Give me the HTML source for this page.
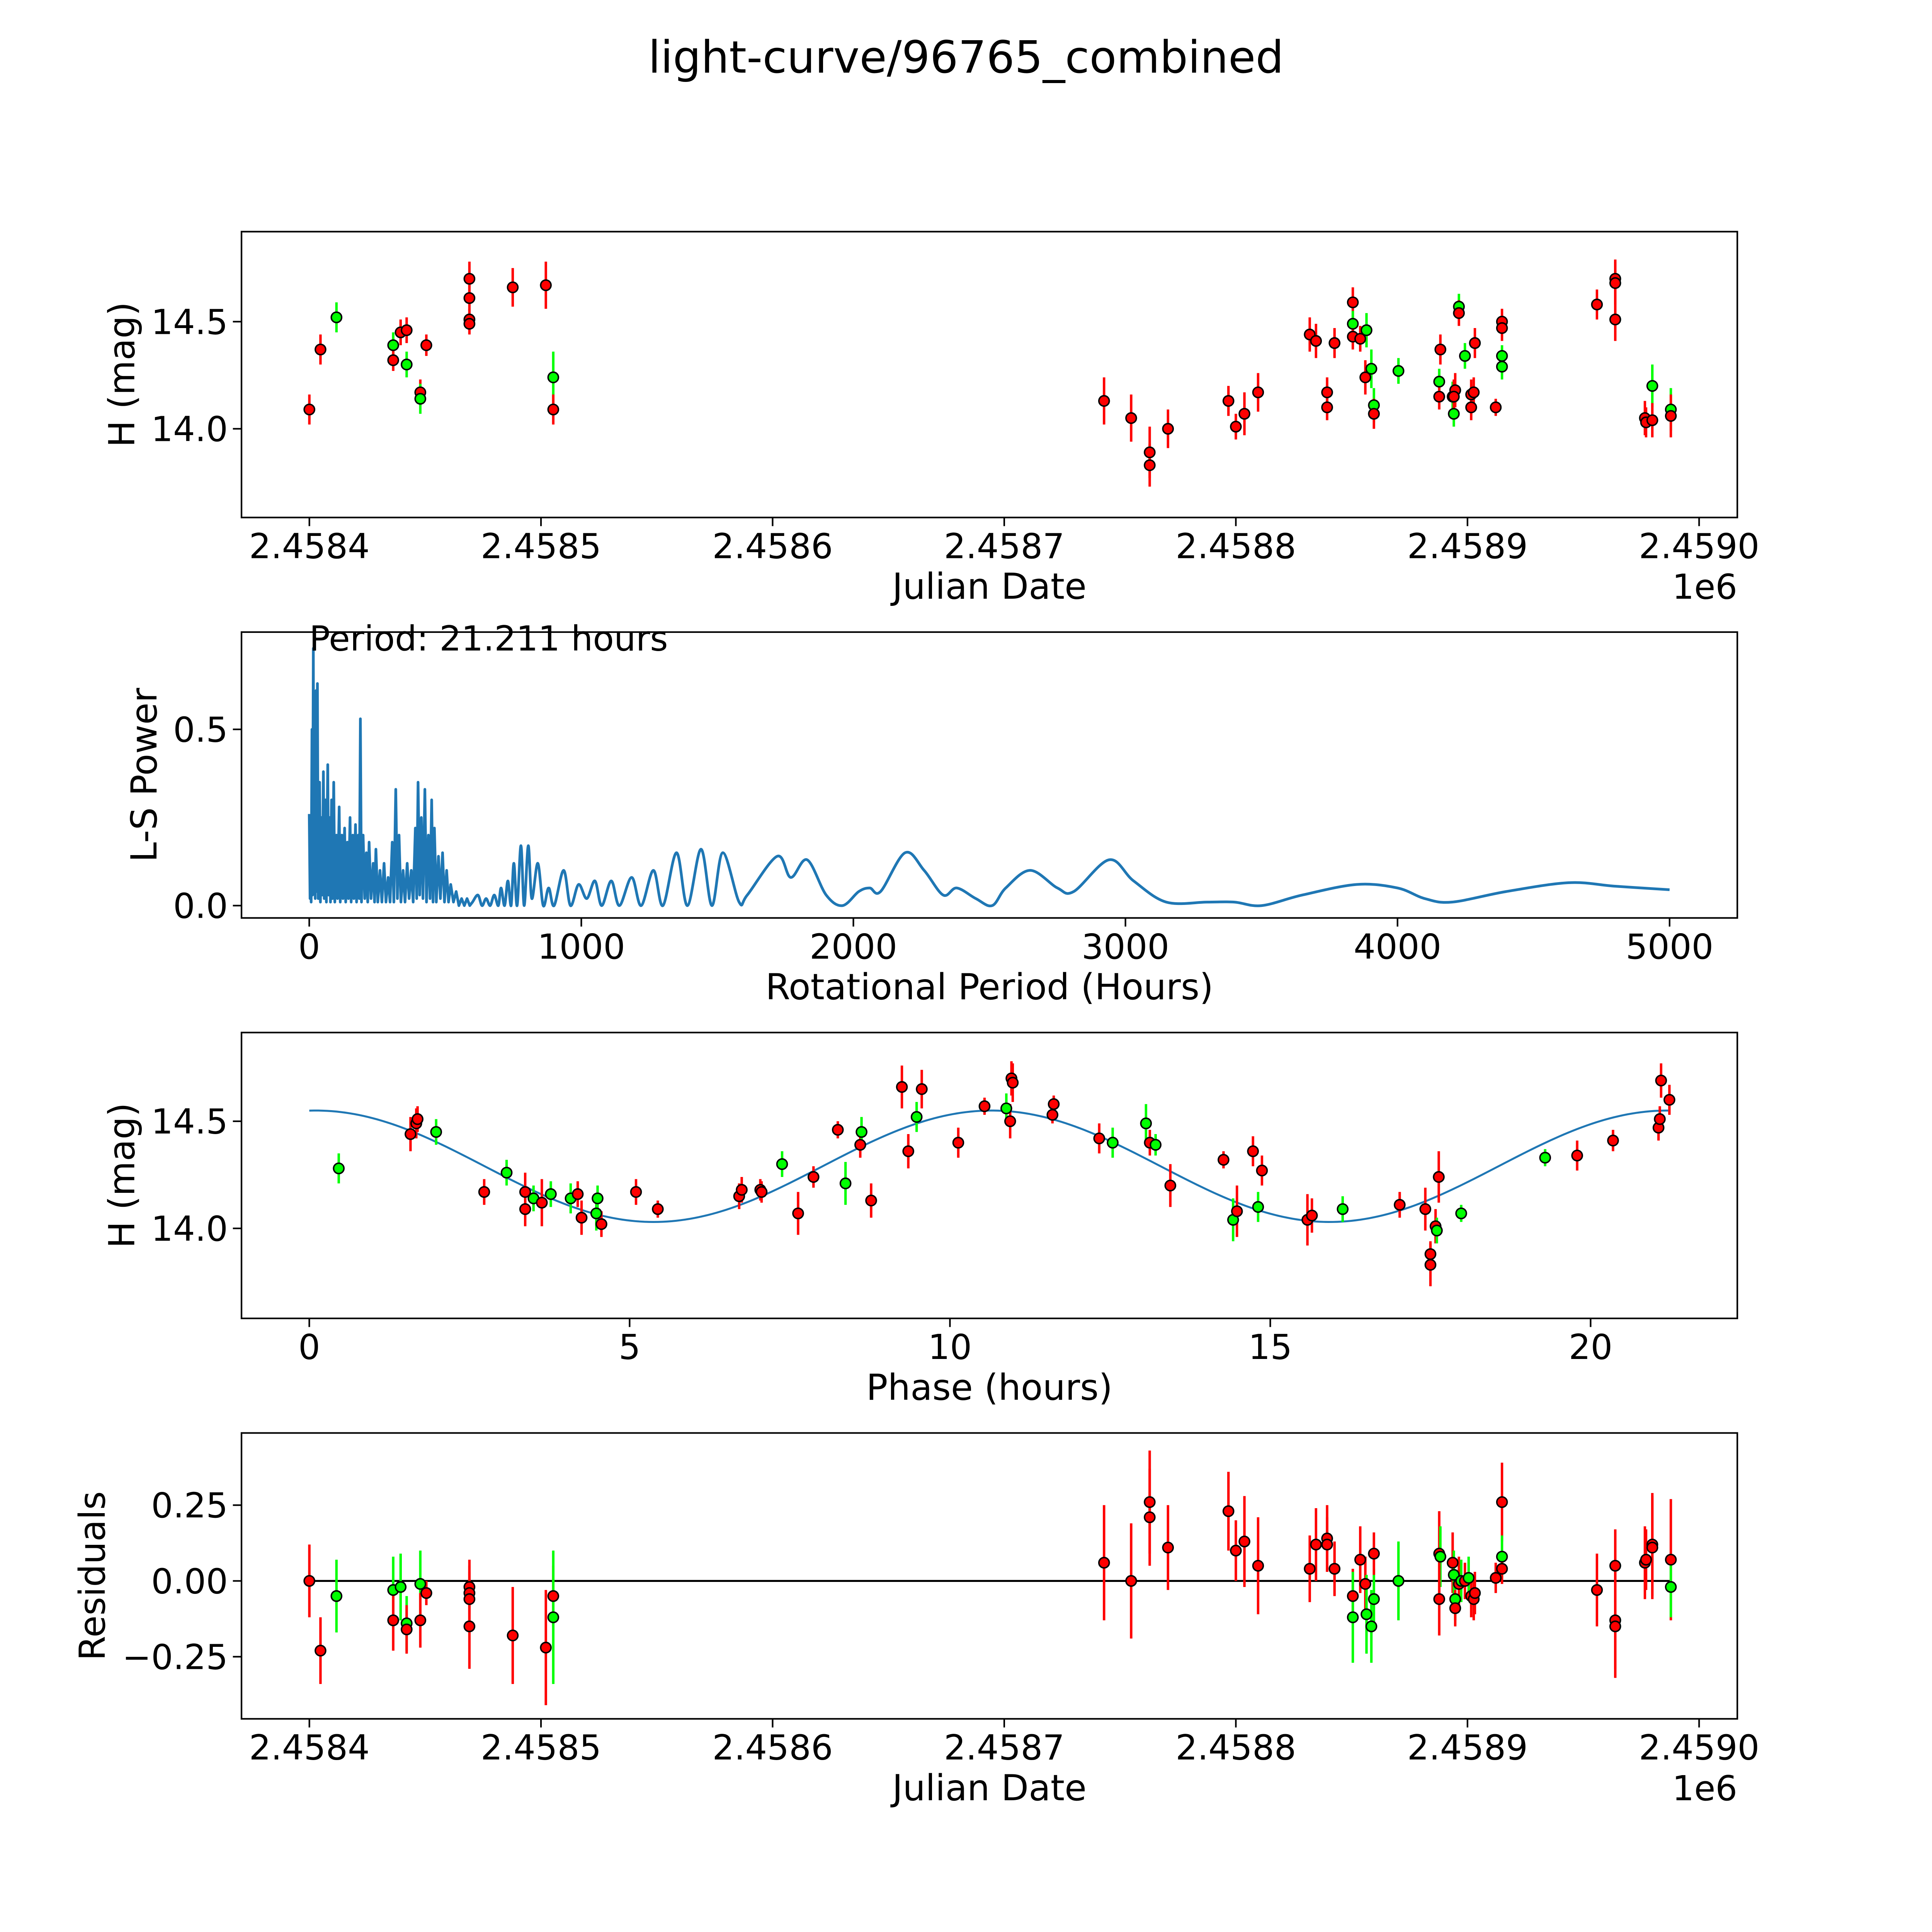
<!DOCTYPE html>
<html><head><meta charset="utf-8"><style>html,body{margin:0;padding:0;background:#fff;overflow:hidden;width:100vw;height:100vh}svg{display:block;width:100vw;height:100vh}text{font-family:"DejaVu Sans","Liberation Sans",sans-serif;fill:#000}</style></head>
<body>
<svg id="fig" xmlns="http://www.w3.org/2000/svg" viewBox="0 0 1568 1568" preserveAspectRatio="none">
<rect x="0" y="0" width="1568" height="1568" fill="#fff"/>
<text x="784" y="59" font-size="36" text-anchor="middle">light-curve/96765_combined</text>
<g id="g1"></g>
<g id="g2"></g>
<g id="g3"></g>
<g id="g4"></g>
</svg>
<script>
// ---- data ----
const lcDays = [0,4.8,11.7,36.2,36.2,39.4,42.0,42.0,47.9,47.9,50.5,69.1,69.1,69.1,69.1,87.8,102.1,105.3,105.3,343.1,354.8,362.8,362.8,370.7,396.8,400.0,403.7,409.6,431.9,434.6,439.4,439.4,442.6,450.5,450.5,450.5,453.7,455.9,456.4,458.5,459.6,459.6,470.2,487.8,488.3,487.8,493.6,494.1,494.7,494.1,496.3,496.3,498.9,501.6,501.6,502.7,503.2,512.2,514.9,514.9,514.9,514.9,555.9,563.8,563.8,563.8,576.6,577.1,579.8,579.8,587.8,587.8];
const lcMag = [14.09,14.37,14.52,14.39,14.32,14.45,14.46,14.30,14.17,14.14,14.39,14.70,14.61,14.51,14.49,14.66,14.67,14.24,14.09,14.13,14.05,13.89,13.83,14.00,14.13,14.01,14.07,14.17,14.44,14.41,14.17,14.10,14.40,14.59,14.49,14.43,14.42,14.24,14.46,14.28,14.11,14.07,14.27,14.22,14.37,14.15,14.15,14.07,14.18,14.15,14.57,14.54,14.34,14.16,14.10,14.17,14.40,14.10,14.50,14.47,14.34,14.29,14.58,14.70,14.68,14.51,14.05,14.03,14.20,14.04,14.09,14.06];
const lcErr = [0.07,0.07,0.07,0.06,0.05,0.06,0.06,0.06,0.06,0.07,0.05,0.08,0.06,0.05,0.05,0.09,0.11,0.12,0.07,0.11,0.11,0.12,0.1,0.09,0.07,0.06,0.1,0.09,0.08,0.08,0.07,0.06,0.07,0.07,0.06,0.06,0.06,0.08,0.08,0.09,0.08,0.07,0.06,0.06,0.07,0.06,0.07,0.06,0.08,0.08,0.06,0.06,0.06,0.07,0.06,0.07,0.07,0.04,0.06,0.06,0.05,0.06,0.07,0.09,0.1,0.1,0.08,0.07,0.1,0.08,0.1,0.1];
const lcBand = "rrggrrrgrgrrrrrrrgrrrrrrrrrrrrrrrrgrrrgggrggrrggrrgrgrrrrrrrggrrrrrrgrgr";

const lsPeriod = [
 0,3,5,7,10,12,15,17,20,22,25,27,30,33,38,41,45,48,52,55,
 60,63,68,71,75,78,82,85,90,94,
 100,104,110,114,120,124,130,134,140,144,
 150,154,160,164,170,174,180,184,188,192,
 198,204,210,215,220,227,235,240,245,252,
 260,267,275,282,290,297,305,311,318,324,
 330,337,345,352,360,367,375,382,390,395,
 400,406,412,418,425,431,438,444,450,455,
 460,467,475,482,490,497,505,512,520,530,
 540,550,560,570,580,590,600,620,635,650,
 665,680,695,705,718,730,742,752,764,778,
 790,805,818,840,860,880,900,935,960,990,
 1020,1050,1075,1110,1140,1185,1220,1265,1300,1350,
 1390,1440,1480,1520,1580,1610,1720,1770,1830,1900,
 1960,2020,2060,2100,2190,2260,2330,2380,2450,2510,
 2560,2650,2750,2810,2940,3030,3150,3300,3400,3500,
 3650,3850,4000,4100,4200,4400,4630,4800,5000];
const lsPower = [
 0.26,0.02,0.2,0.01,0.5,0.03,0.73,0.05,0.3,0.02,0.61,0.04,0.63,0.02,0.35,0.01,0.25,0.03,0.38,0.02,
 0.3,0.01,0.4,0.03,0.25,0.01,0.3,0.02,0.35,0.01,
 0.2,0.02,0.28,0.01,0.2,0.02,0.22,0.01,0.18,0.02,
 0.25,0.01,0.2,0.02,0.23,0.01,0.2,0.02,0.53,0.01,
 0.2,0.02,0.15,0.01,0.18,0.02,0.12,0.01,0.16,0.01,
 0.1,0.01,0.12,0.01,0.08,0.01,0.18,0.01,0.33,0.02,
 0.2,0.01,0.1,0.01,0.12,0.02,0.1,0.01,0.22,0.02,
 0.35,0.03,0.25,0.02,0.33,0.01,0.2,0.02,0.3,0.01,
 0.22,0.01,0.14,0.02,0.15,0.01,0.1,0.01,0.06,0.01,
 0.04,0,0.02,0,0.02,0,0.01,0.03,0,0.02,
 0,0.03,0,0.05,0,0.07,0,0.12,0,0.17,
 0,0.17,0.02,0.12,0,0.05,0,0.1,0,0.06,
 0.02,0.07,0,0.07,0,0.08,0,0.1,0,0.15,
 0,0.16,0,0.15,0.01,0.03,0.14,0.08,0.13,0.03,
 0,0.04,0.05,0.04,0.15,0.1,0.03,0.05,0.02,0,
 0.05,0.1,0.05,0.04,0.13,0.07,0.01,0.01,0.01,0,
 0.03,0.06,0.05,0.02,0.01,0.04,0.065,0.055,0.045];

const phHours = [0.46,1.58,1.67,1.69,1.98,2.73,3.08,3.37,3.37,3.50,3.63,3.77,4.08,4.19,4.25,4.48,4.50,4.56,5.10,5.44,6.71,6.75,7.04,7.06,7.38,7.63,7.87,8.25,8.37,8.60,8.62,8.77,9.25,9.35,9.48,9.56,10.13,10.54,10.88,10.94,10.96,10.98,11.60,11.62,12.33,12.54,13.06,13.12,13.21,13.44,14.27,14.42,14.48,14.73,14.81,14.87,15.58,15.65,16.13,17.02,17.42,17.50,17.50,17.58,17.60,17.63,17.98,19.29,19.79,20.35,21.06,21.08,21.10,21.23];
const phMag = [14.28,14.44,14.49,14.51,14.45,14.17,14.26,14.17,14.09,14.14,14.12,14.16,14.14,14.16,14.05,14.07,14.14,14.02,14.17,14.09,14.15,14.18,14.18,14.17,14.30,14.07,14.24,14.46,14.21,14.39,14.45,14.13,14.66,14.36,14.52,14.65,14.40,14.57,14.56,14.50,14.70,14.68,14.53,14.58,14.42,14.40,14.49,14.40,14.39,14.20,14.32,14.04,14.08,14.36,14.10,14.27,14.04,14.06,14.09,14.11,14.09,13.88,13.83,14.01,13.99,14.24,14.07,14.33,14.34,14.41,14.47,14.51,14.69,14.60];
const phErr = [0.07,0.08,0.07,0.06,0.06,0.06,0.06,0.09,0.08,0.06,0.11,0.06,0.07,0.06,0.08,0.08,0.06,0.06,0.06,0.04,0.06,0.06,0.05,0.05,0.06,0.1,0.05,0.04,0.1,0.06,0.07,0.08,0.1,0.08,0.07,0.09,0.07,0.04,0.07,0.08,0.08,0.09,0.04,0.04,0.07,0.07,0.09,0.06,0.05,0.1,0.04,0.1,0.12,0.07,0.07,0.07,0.12,0.08,0.06,0.06,0.1,0.06,0.1,0.08,0.06,0.12,0.04,0.04,0.07,0.05,0.06,0.06,0.08,0.07];
const phBand = "grrrgrgrrgrggrrggrrrrrrrgrrrgrgrrrgrrrgrrrrrrggrgrrgrrgrrrgrrrrrgrggrrrrr";
const fitMean = 14.29, fitAmp = 0.26, fitPeak = 0.1, fitHalfPeriod = 10.55;

const resDays = [0,4.8,11.7,36.2,36.2,39.4,42.0,42.0,47.9,47.9,50.5,69.1,69.1,69.1,69.1,87.8,102.1,105.3,105.3,343.1,354.8,362.8,362.8,370.7,396.8,400.0,403.7,409.6,431.9,434.6,439.4,439.4,442.6,450.5,450.5,453.7,455.9,456.4,458.5,459.6,459.6,470.2,487.8,488.3,487.8,493.6,494.1,494.7,494.7,496.3,497.3,498.9,500.5,501.6,502.7,503.2,512.2,514.9,514.9,514.9,555.9,563.8,563.8,563.8,576.6,577.1,579.8,579.8,587.8,587.8];
const resVal = [0.00,-0.23,-0.05,-0.03,-0.13,-0.02,-0.14,-0.16,-0.01,-0.13,-0.04,-0.02,-0.04,-0.06,-0.15,-0.18,-0.22,-0.05,-0.12,0.06,0.00,0.26,0.21,0.11,0.23,0.10,0.13,0.05,0.04,0.12,0.14,0.12,0.04,-0.05,-0.12,0.07,-0.01,-0.11,-0.15,-0.06,0.09,0.00,0.09,0.08,-0.06,0.06,0.02,-0.06,-0.09,-0.01,0.00,0.00,0.01,-0.05,-0.06,-0.04,0.01,0.26,0.08,0.04,-0.03,-0.13,-0.15,0.05,0.06,0.07,0.12,0.11,0.07,-0.02];
const resErr = [0.12,0.11,0.12,0.11,0.1,0.11,0.09,0.08,0.11,0.09,0.04,0.09,0.09,0.09,0.14,0.16,0.19,0.1,0.22,0.19,0.19,0.17,0.16,0.14,0.13,0.1,0.15,0.16,0.11,0.12,0.11,0.09,0.09,0.09,0.15,0.11,0.09,0.13,0.12,0.1,0.07,0.13,0.14,0.1,0.12,0.1,0.08,0.07,0.06,0.09,0.07,0.06,0.07,0.07,0.07,0.07,0.05,0.13,0.07,0.05,0.12,0.16,0.17,0.12,0.12,0.1,0.17,0.17,0.2,0.1];
const resBand = "rrggrggrgrrrrrrrrrgrrrrrrrrrrrrrrrgrrgggrgrgrrggrrgrgrrrrrgrrrrrrrrrrgr";

const xTicksJD = [0,100,200,300,400,500,600];
const xTickLabelsJD = ["2.4584","2.4585","2.4586","2.4587","2.4588","2.4589","2.4590"];
const magTicks = [14.0,14.5];
const magTickLabels = ["14.0","14.5"];
const lsXTicks = [0,1000,2000,3000,4000,5000];
const lsYTicks = [0,0.5];
const lsYTickLabels = ["0.0","0.5"];
const phTicks = [0,5,10,15,20];
const resTicks = [-0.25,0,0.25];
const resTickLabels = ["\u22120.25","0.00","0.25"];

// ---- layout ----
const NS = "http://www.w3.org/2000/svg";
const L = 196, R = 1410, H = 232, FS = 28, LFS = 29;
function lin(d0,d1,r0,r1){return v=>r0+(v-d0)/(d1-d0)*(r1-r0);}
function mk(parent,tag,attrs){const e=document.createElementNS(NS,tag);for(const k in attrs)e.setAttribute(k,attrs[k]);parent.appendChild(e);return e;}
function txt(parent,x,y,s,size,anchor,rot){const t=mk(parent,"text",{x:x,y:y,"font-size":size,"text-anchor":anchor||"middle"});if(rot)t.setAttribute("transform",`rotate(-90 ${x} ${y})`);t.textContent=s;return t;}

function frame(g,top,sx,sy,xt,xl,yt,yl,xlabel,ylabel,ylabX,offsetText){
  const b=top+H;
  xt.forEach((v,i)=>{const x=sx(v);
    const tk=mk(g,"line",{x1:x,x2:x,y1:b,y2:b+7,stroke:"#000","stroke-width":1.3});
    
    
    const t=txt(g,x,b+33,xl[i],FS);
    
    });
  yt.forEach((v,i)=>{const y=sy(v);
    const tk=mk(g,"line",{x1:L-7,x2:L,y1:y,y2:y,stroke:"#000","stroke-width":1.3});
    
    
    const t=txt(g,L-11,y+10,yl[i],FS,"end");
    
    });
  const xlab=txt(g,(L+R)/2,b+66,xlabel,LFS);
  
  
  const ylab=txt(g,ylabX,top+H/2,ylabel,LFS,"middle",true);
  
  
  if(offsetText){const o=txt(g,R,b+66,offsetText,FS,"end");
    
    }
}
function border(g,top){const r=mk(g,"rect",{x:L,y:top,width:R-L,height:H,fill:"none",stroke:"#000","stroke-width":1.3});
  
  }
function points(g,xs,ys,es,band,sx,sy){
  const col=c=>c==="g"?"#00ff00":"#ff0000";
  xs.forEach((xv,i)=>{const e=es[i]??0.07;
    const l=mk(g,"line",{x1:sx(xv),x2:sx(xv),y1:sy(ys[i]-e),y2:sy(ys[i]+e),stroke:col(band[i]),"stroke-width":2});
    
    });
  xs.forEach((xv,i)=>{
    const c=mk(g,"circle",{cx:sx(xv),cy:sy(ys[i]),r:4.2,fill:col(band[i]),stroke:"#000","stroke-width":1.2});
    
    });
}

// Panel 1
(function(){const g=document.getElementById("g1"),top=188;
  const sx=lin(-29.3,616.5,L,R), sy=lin(13.586,14.92,top+H,top);
  frame(g,top,sx,sy,xTicksJD,xTickLabelsJD,magTicks,magTickLabels,"Julian Date","H (mag)",109,"1e6");
  points(g,lcDays,lcMag,lcErr,lcBand,sx,sy); border(g,top);})();

// Panel 2
(function(){const g=document.getElementById("g2"),top=513;
  const sx=lin(-249,5249,L,R), sy=lin(-0.035,0.776,top+H,top);
  frame(g,top,sx,sy,lsXTicks,lsXTicks.map(String),lsYTicks,lsYTickLabels,"Rotational Period (Hours)","L-S Power",127);
  const P=lsPeriod.map((p,i)=>[sx(p),sy(lsPower[i])]);
  let d="M"+P[0][0].toFixed(2)+" "+P[0][1].toFixed(2);
  for(let i=1;i<P.length;i++){
    if(lsPeriod[i]<=600){d+="L"+P[i][0].toFixed(2)+" "+P[i][1].toFixed(2);}
    else{const p0=P[i-2]||P[i-1],p1=P[i-1],p2=P[i],p3=P[i+1]||P[i];
      const c1=[p1[0]+(p2[0]-p0[0])/6,p1[1]+(p2[1]-p0[1])/6],c2=[p2[0]-(p3[0]-p1[0])/6,p2[1]-(p3[1]-p1[1])/6];
      d+=`C${c1[0].toFixed(2)} ${c1[1].toFixed(2)} ${c2[0].toFixed(2)} ${c2[1].toFixed(2)} ${p2[0].toFixed(2)} ${p2[1].toFixed(2)}`;}
  }
  const p=mk(g,"path",{d:d,fill:"none",stroke:"#1f77b4","stroke-width":2.2,"stroke-linejoin":"round"});
  
  
  border(g,top);
  const t=txt(g,sx(0),top+15,"Period: 21.211 hours",FS,"start");
  
  })();

// Panel 3
(function(){const g=document.getElementById("g3"),top=838;
  const sx=lin(-1.058,22.29,L,R), sy=lin(13.58,14.914,top+H,top);
  frame(g,top,sx,sy,phTicks,phTicks.map(String),magTicks,magTickLabels,"Phase (hours)","H (mag)",109);
  let d="";for(let i=0;i<=300;i++){const t=21.211*i/300;const m=fitMean+fitAmp*Math.cos(2*Math.PI*(t-fitPeak)/fitHalfPeriod);d+=(i?"L":"M")+sx(t).toFixed(2)+" "+sy(m).toFixed(2);}
  const p=mk(g,"path",{d:d,fill:"none",stroke:"#1f77b4","stroke-width":1.6});
  
  
  points(g,phHours,phMag,phErr,phBand,sx,sy); border(g,top);})();

// Panel 4
(function(){const g=document.getElementById("g4"),top=1163;
  const sx=lin(-29.3,616.5,L,R), sy=lin(-0.455,0.488,top+H,top);
  frame(g,top,sx,sy,xTicksJD,xTickLabelsJD,resTicks,resTickLabels,"Julian Date","Residuals",85,"1e6");
  const z=mk(g,"line",{x1:sx(0),x2:sx(587.8),y1:sy(0),y2:sy(0),stroke:"#000","stroke-width":1.6});
  
  
  points(g,resDays,resVal,resErr,resBand,sx,sy); border(g,top);})();
</script>
</body></html>
